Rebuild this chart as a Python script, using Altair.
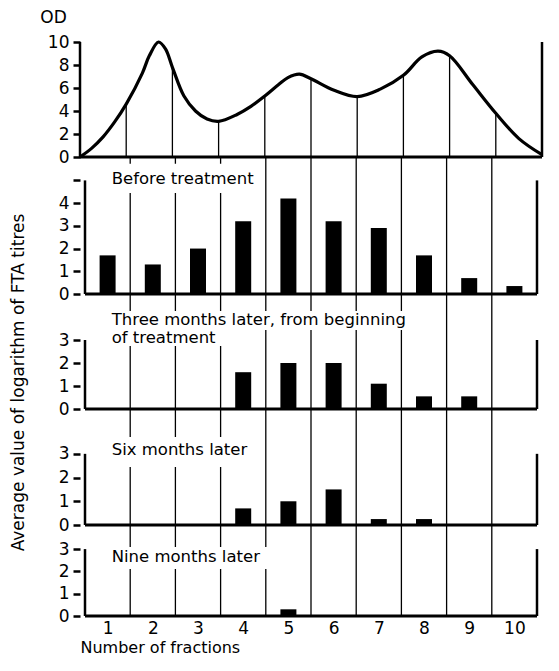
import altair as alt
import pandas as pd

FONT = "DejaVu Sans"

fractions = [1, 2, 3, 4, 5, 6, 7, 8, 9, 10]
boundaries = [1.5, 2.5, 3.5, 4.5, 5.5, 6.5, 7.5, 8.5, 9.5]

# OD elution curve (x in fraction units)
od_x = [0.5, 0.75, 1.0, 1.25, 1.5, 1.85, 2.0, 2.2, 2.35, 2.5, 2.75, 3.0, 3.25,
        3.5, 3.9, 4.2, 4.5, 4.8, 5.0, 5.25, 5.5, 6.0, 6.5, 7.0, 7.5, 7.9,
        8.25, 8.5, 9.0, 9.5, 10.0, 10.5]
od_y = [0.0, 0.75, 1.75, 3.05, 4.6, 7.3, 8.8, 10.0, 9.4, 7.8, 5.3, 4.0, 3.3,
        3.1, 3.7, 4.4, 5.3, 6.3, 6.9, 7.2, 6.8, 5.8, 5.25, 5.9, 7.1, 8.7,
        9.2, 8.8, 6.3, 3.8, 1.6, 0.2]

before = [1.7, 1.3, 2.0, 3.2, 4.2, 3.2, 2.9, 1.7, 0.7, 0.35]
three_months = [0, 0, 0, 1.6, 2.0, 2.0, 1.1, 0.55, 0.55, 0]
six_months = [0, 0, 0, 0.7, 1.0, 1.5, 0.25, 0.25, 0, 0]
nine_months = [0, 0, 0, 0, 0.3, 0, 0, 0, 0, 0]

W = 462
xs = alt.Scale(domain=[0.5, 10.5], nice=False, zero=False)


def yaxis(vals, hide=None, **kw):
    expr = "datum.label" if hide is None else f"datum.value == {hide} ? '' : datum.label"
    return alt.Axis(values=vals, labelExpr=expr, domain=False, grid=False,
                    tickSize=7, tickWidth=2.5, tickColor="black",
                    labelFont=FONT, labelFontSize=17, labelColor="black",
                    labelPadding=4, **kw)


def frame(top_val, axis_top, ys, xax, yax, od=False):
    layers = []
    if not od:
        bdf = pd.DataFrame({"b": boundaries, "y0": 0.0, "y1": top_val})
    else:
        lut = dict(zip(od_x, od_y))
        bdf = pd.DataFrame({"b": boundaries, "y0": 0.0,
                            "y1": [lut[b] for b in boundaries]})
    # vertical separators between fractions
    layers.append(alt.Chart(bdf).mark_rule(color="black", strokeWidth=1.3).encode(
        x=alt.X("b:Q", scale=xs, axis=xax),
        y=alt.Y("y0:Q", scale=ys, axis=yax), y2="y1:Q"))
    # left and right edges
    edf = pd.DataFrame({"x": [0.5, 10.5], "y0": [0.0, 0.0], "y1": [axis_top, axis_top]})
    layers.append(alt.Chart(edf).mark_rule(color="black", strokeWidth=2.5).encode(
        x=alt.X("x:Q", scale=xs, axis=xax),
        y=alt.Y("y0:Q", scale=ys, axis=yax), y2="y1:Q"))
    # baseline
    base = pd.DataFrame({"x0": [0.5], "x1": [10.5], "y": [0.0]})
    layers.append(alt.Chart(base).mark_rule(color="black", strokeWidth=3).encode(
        x=alt.X("x0:Q", scale=xs, axis=xax), x2="x1:Q",
        y=alt.Y("y:Q", scale=ys, axis=yax)))
    return layers


def label_layers(ys, xax, yax, lines, boxes):
    layers = []
    bdf = pd.DataFrame(boxes, columns=["x0", "x1", "y0", "y1"])
    layers.append(alt.Chart(bdf).mark_rect(color="white").encode(
        x=alt.X("x0:Q", scale=xs, axis=xax), x2="x1:Q",
        y=alt.Y("y0:Q", scale=ys, axis=yax), y2="y1:Q"))
    tdf = pd.DataFrame(lines, columns=["t", "x", "y"])
    layers.append(alt.Chart(tdf).mark_text(
        align="left", baseline="middle", font=FONT, fontSize=16.5, color="black").encode(
        x=alt.X("x:Q", scale=xs, axis=xax),
        y=alt.Y("y:Q", scale=ys, axis=yax), text="t:N"))
    return layers


# ---- top OD panel ----
ys_top = alt.Scale(domain=[0, 10], nice=False)
yax_top = yaxis([0, 2, 4, 6, 8, 10], title="OD", titleAngle=0,
                titleX=-27, titleY=-25, titleAlign="center",
                titleBaseline="middle", titleFont=FONT,
                titleFontSize=17, titleFontWeight="normal",
                titleColor="black")
od_df = pd.DataFrame({"x": od_x, "od": od_y})
curve = alt.Chart(od_df).mark_line(color="black", strokeWidth=3.2,
                                   interpolate="catmull-rom").encode(
    x=alt.X("x:Q", scale=xs, axis=None),
    y=alt.Y("od:Q", scale=ys_top, axis=yax_top))
top_panel = alt.layer(curve, *frame(10, 10, ys_top, None, yax_top, od=True)).properties(
    width=W, height=115)


def bar_panel(values, top_val, axis_top, height, lines, boxes, hide=None,
              last=False, ytitle=False):
    ys = alt.Scale(domain=[0, top_val], nice=False)
    df = pd.DataFrame({"f": fractions, "v": values})
    if ytitle:
        ykw = dict(title="Average value of logarithm of FTA titres",
                   titleX=-62, titleY=88, titleAlign="center",
                   titleBaseline="middle", titleFont=FONT, titleFontSize=17,
                   titleFontWeight="normal", titleColor="black")
    else:
        ykw = dict(title=None)
    yax = yaxis(list(range(axis_top + 1)), hide=hide, **ykw)
    if last:
        xax = alt.Axis(values=fractions, domain=False, ticks=False, grid=False,
                       labelFont=FONT, labelFontSize=17, labelColor="black",
                       labelPadding=4, title="Number of fractions",
                       titleAnchor="start", titleFont=FONT, titleFontSize=16,
                       titleFontWeight="normal", titleColor="black",
                       titlePadding=3)
    else:
        xax = None
    bars = alt.Chart(df).mark_bar(size=16, color="black").encode(
        x=alt.X("f:Q", scale=xs, axis=xax),
        y=alt.Y("v:Q", scale=ys, axis=yax))
    return alt.layer(bars, *frame(top_val, axis_top, ys, xax, yax),
                     *label_layers(ys, xax, yax, lines, boxes)).properties(
        width=W, height=height)


p2 = bar_panel(before, 6.03, 5, 137,
               [("Before treatment", 1.09, 5.07)],
               [(1.02, 4.42, 4.45, 5.73)], hide=5)
p3 = bar_panel(three_months, 5.0, 3, 115,
               [("Three months later, from beginning", 1.09, 3.88),
                ("of treatment", 1.09, 3.10)],
               [(1.02, 7.95, 3.43, 4.26), (1.02, 3.6, 2.74, 3.43)],
               ytitle=True)
p4 = bar_panel(six_months, 4.89, 3, 116,
               [("Six months later", 1.09, 3.16)],
               [(1.02, 4.35, 2.45, 3.71)])
p5 = bar_panel(nine_months, 4.08, 3, 91,
               [("Nine months later", 1.09, 2.65)],
               [(1.02, 4.7, 2.11, 3.09)], last=True)

chart = alt.vconcat(top_panel, p2, p3, p4, p5, spacing=0, bounds="flush").properties(
    padding=0, background="white"
).configure_view(stroke=None).configure_concat(spacing=0)

chart.save("out.html", embed_options={"renderer": "svg", "actions": False})
